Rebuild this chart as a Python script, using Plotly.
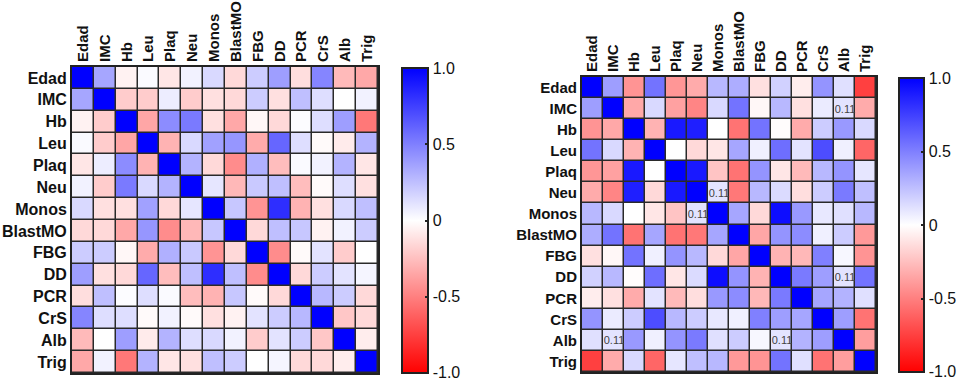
import plotly.graph_objects as go

labels = ["Edad", "IMC", "Hb", "Leu", "Plaq", "Neu", "Monos", "BlastMO",
          "FBG", "DD", "PCR", "CrS", "Alb", "Trig"]

left_corr = [
    [1, 0.35, -0.05, 0.02, -0.1, 0.05, 0.15, -0.15, 0.2, 0.38, -0.13, 0.48, -0.27, -0.34],
    [0.35, 1, -0.2, -0.2, 0.07, -0.2, -0.12, -0.15, 0.2, -0.12, 0.25, 0.13, 0.0, 0.05],
    [-0.05, -0.2, 1, -0.35, 0.45, 0.52, -0.12, -0.34, -0.03, -0.15, 0.01, 0.13, 0.38, -0.53],
    [0.02, -0.2, -0.35, 1, -0.3, 0.15, 0.37, 0.41, -0.33, 0.6, 0.13, -0.02, -0.08, 0.3],
    [-0.1, 0.07, 0.45, -0.3, 1, 0.3, -0.15, -0.45, 0.31, -0.26, 0.02, 0.05, 0.3, -0.1],
    [0.05, -0.2, 0.52, 0.15, 0.3, 1, 0.1, -0.28, 0.21, 0.25, -0.26, -0.02, 0.13, -0.12],
    [0.15, -0.12, -0.12, 0.37, -0.15, 0.1, 1, 0.22, -0.42, 0.82, -0.3, -0.12, 0.15, 0.25],
    [-0.15, -0.15, -0.34, 0.41, -0.45, -0.28, 0.22, 1, -0.15, 0.25, 0.22, -0.05, 0.05, 0.2],
    [0.2, 0.2, -0.03, -0.33, 0.31, 0.21, -0.42, -0.15, 1, -0.45, -0.02, 0.11, -0.2, 0.0],
    [0.38, -0.12, -0.15, 0.6, -0.26, 0.25, 0.82, 0.25, -0.45, 1, -0.15, 0.2, 0.11, 0.04],
    [-0.13, 0.25, 0.01, 0.13, 0.02, -0.26, -0.3, 0.22, -0.02, -0.15, 1, 0.28, 0.2, -0.15],
    [0.48, 0.13, 0.13, -0.02, 0.05, -0.02, -0.12, -0.05, 0.11, 0.2, 0.28, 1, -0.22, -0.15],
    [-0.27, 0.0, 0.38, -0.08, 0.3, 0.13, 0.15, 0.05, -0.2, 0.11, 0.2, -0.22, 1, -0.07],
    [-0.34, 0.05, -0.53, 0.3, -0.1, -0.12, 0.25, 0.2, 0.0, 0.04, -0.15, -0.15, -0.07, 1],
]

right_corr = [
    [1, 0.38, -0.42, 0.55, -0.41, -0.33, 0.28, 0.32, -0.12, 0.18, -0.07, 0.42, 0.12, -0.75],
    [0.38, 1, -0.34, 0.15, -0.37, -0.48, 0.15, 0.55, -0.03, 0.28, -0.12, 0.08, 0.11, -0.33],
    [-0.42, -0.34, 1, -0.3, 0.9, 0.88, 0.0, -0.55, 0.55, -0.01, -0.33, 0.2, 0.4, 0.15],
    [0.55, 0.15, -0.3, 1, 0.0, -0.15, -0.1, 0.35, 0.06, 0.57, 0.11, 0.7, 0.06, -0.6],
    [-0.41, -0.37, 0.9, 0.0, 1, 0.9, -0.23, -0.55, 0.42, -0.1, -0.27, 0.28, 0.42, 0.1],
    [-0.33, -0.48, 0.88, -0.15, 0.9, 1, 0.11, -0.53, 0.28, 0.14, -0.13, 0.2, 0.52, 0.25],
    [0.28, 0.15, 0.0, -0.1, -0.23, 0.11, 1, 0.35, -0.15, 0.95, 0.4, 0.09, 0.12, 0.28],
    [0.32, 0.55, -0.55, 0.35, -0.55, -0.53, 0.35, 1, -0.35, 0.42, 0.45, 0.06, 0.2, -0.4],
    [-0.12, -0.03, 0.55, 0.06, 0.42, 0.28, -0.15, -0.35, 1, -0.3, -0.28, 0.5, 0.03, -0.42],
    [0.18, 0.28, -0.01, 0.57, -0.1, 0.14, 0.95, 0.42, -0.3, 1, 0.52, 0.38, 0.11, 0.55],
    [-0.07, -0.12, -0.33, 0.11, -0.27, -0.13, 0.4, 0.45, -0.28, 0.52, 1, 0.35, 0.3, 0.12],
    [0.42, 0.08, 0.2, 0.7, 0.28, 0.2, 0.09, 0.06, 0.5, 0.38, 0.35, 1, 0.38, -0.55],
    [0.12, 0.11, 0.4, 0.06, 0.42, 0.52, 0.12, 0.2, 0.03, 0.11, 0.3, 0.38, 1, -0.38],
    [-0.75, -0.33, 0.15, -0.6, 0.1, 0.25, 0.28, -0.4, -0.42, 0.55, 0.12, -0.55, -0.38, 1],
]

# cells of the right matrix whose value is printed
right_labelled = [("IMC", "Alb"), ("Alb", "IMC"), ("Neu", "Monos"), ("Monos", "Neu"),
                  ("DD", "Alb"), ("Alb", "DD")]

cb_vals = [0.999, 0.5, 0, -0.5, -0.999]
cb_text = ["1.0", "0.5", "0", "-0.5", "-1.0"]

scale = [[0, "rgb(255,0,0)"], [0.5, "rgb(255,255,255)"], [1, "rgb(0,0,255)"]]

right_text = [["" for _ in labels] for _ in labels]
for r, c in right_labelled:
    i, j = labels.index(r), labels.index(c)
    right_text[i][j] = f"{right_corr[i][j]:.2f}"

W, H = 962, 381
FONT = "Liberation Sans, Arial, sans-serif"


def colorbar(x0, x1, ytop, ybot):
    return dict(
        x=x0 / W, xanchor="left", xpad=0, ypad=0,
        thickness=x1 - x0, thicknessmode="pixels",
        y=1 - ytop / H, yanchor="top",
        len=(ybot - ytop) / H, lenmode="fraction",
        outlinewidth=2, outlinecolor="#222",
        tickvals=cb_vals, ticktext=cb_text,
        ticks="inside", ticklen=4, tickcolor="#222", tickwidth=1.5,
        ticklabeloverflow="allow",
        tickfont=dict(family=FONT, size=16, color="#111"),
    )


fig = go.Figure()
fig.add_trace(go.Heatmap(
    z=left_corr, x=labels, y=labels, zmin=-1, zmax=1, colorscale=scale,
    xgap=1.5, ygap=1.5, xaxis="x", yaxis="y",
    colorbar=colorbar(402, 428, 68, 373),
))
fig.add_trace(go.Heatmap(
    z=right_corr, x=labels, y=labels, zmin=-1, zmax=1, colorscale=scale,
    xgap=1.5, ygap=1.5, xaxis="x2", yaxis="y2",
    text=right_text, texttemplate="%{text}",
    textfont=dict(family=FONT, size=11, color="#444"),
    colorbar=colorbar(899, 924, 78, 372),
))

axis_common = dict(showgrid=False, zeroline=False, showline=True, mirror=True,
                   linewidth=2, linecolor="#222", ticks="", type="category",
                   automargin=False)

fig.update_layout(
    width=W, height=H, margin=dict(l=0, r=0, t=0, b=0, autoexpand=False),
    paper_bgcolor="white", plot_bgcolor="#2a2a2a",
    font=dict(family=FONT, color="#111"),
    xaxis=dict(axis_common, domain=[72 / W, 378 / W], anchor="y", side="top",
               tickangle=-90, tickfont=dict(size=15, weight="bold")),
    yaxis=dict(axis_common, domain=[1 - 373 / H, 1 - 67 / H], anchor="x",
               autorange="reversed", tickfont=dict(size=16, weight="bold")),
    xaxis2=dict(axis_common, domain=[582 / W, 876 / W], anchor="y2", side="top",
                tickangle=-90, tickfont=dict(size=15, weight="bold")),
    yaxis2=dict(axis_common, domain=[1 - 372 / H, 1 - 77 / H], anchor="x2",
                autorange="reversed", tickfont=dict(size=15, weight="bold")),
)

fig.write_html(
    "out.html",
    config={"displayModeBar": False},
    post_script="document.body.style.margin='0';document.body.style.overflow='hidden';",
)
